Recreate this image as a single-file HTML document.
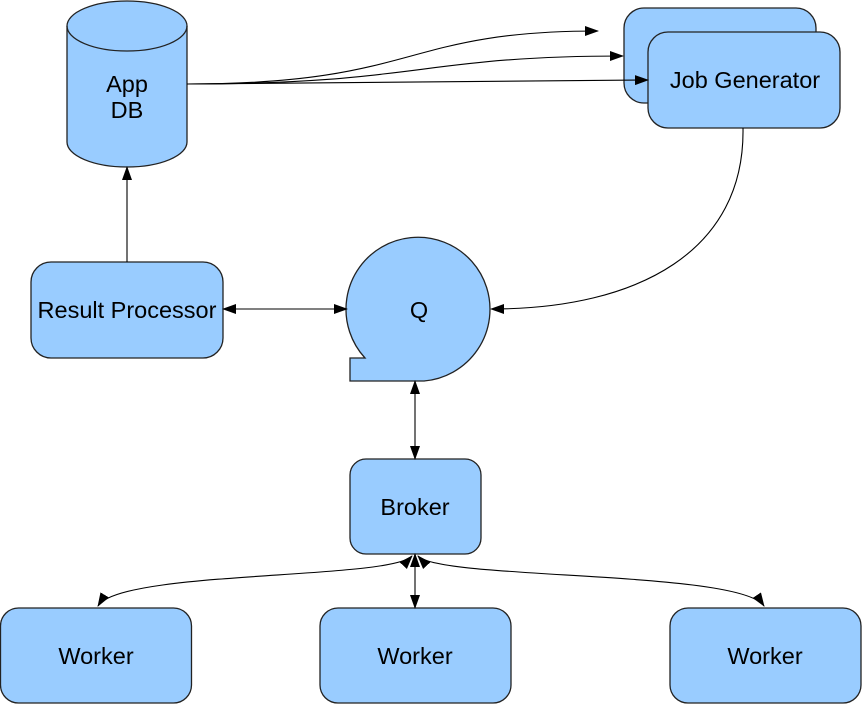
<!DOCTYPE html>
<html><head><style>body{margin:0;background:#fff}svg{display:block}</style></head>
<body>
<svg width="863" height="705" viewBox="0 0 863 705" xmlns="http://www.w3.org/2000/svg" font-family="Liberation Sans, sans-serif">
<defs>
<marker id="a" markerWidth="14" markerHeight="10" refX="13" refY="5" orient="auto" markerUnits="userSpaceOnUse"><path d="M0,0 L14,5 L0,10 z" fill="#000"/></marker>
<marker id="s" markerWidth="14" markerHeight="10" refX="1" refY="5" orient="auto" markerUnits="userSpaceOnUse"><path d="M14,0 L0,5 L14,10 z" fill="#000"/></marker>
</defs>
<g fill="#99ccff" stroke="#222" stroke-width="1.3">
<path d="M67,26 L67,142 A60,25 0 0 0 187,142 L187,26 A60,25 0 0 0 67,26 z"/>
<path d="M67,26 A60,25 0 0 0 187,26" fill="none"/>
<rect x="624" y="8" width="192" height="95" rx="20"/>
<rect x="648" y="32" width="192" height="96" rx="20"/>
<rect x="31" y="262" width="192" height="96" rx="20"/>
<path d="M365,358 A72,72 0 1 1 424,381 L350,381 L350,358 z"/>
<rect x="350" y="459" width="131" height="95" rx="16"/>
<rect x="0.5" y="608" width="191" height="95" rx="18"/>
<rect x="320" y="608" width="191" height="95" rx="18"/>
<rect x="670" y="608" width="191" height="95" rx="18"/>
</g>
<g fill="none" stroke="#000" stroke-width="1.1">
<path d="M187,84 C420,84 400,31 598,31" marker-end="url(#a)"/>
<path d="M187,84 C420,84 420,56 623,56" marker-end="url(#a)"/>
<path d="M187,84 L648,80" marker-end="url(#a)"/>
<path d="M743,128 C745,250 640,309 491,309" marker-end="url(#a)"/>
<path d="M223,309 L347,309" marker-start="url(#s)" marker-end="url(#a)"/>
<path d="M127,262 L127,167" marker-end="url(#a)"/>
<path d="M415,381 L415,459" marker-start="url(#s)" marker-end="url(#a)"/>
<path d="M415,554 L415,608" marker-start="url(#s)" marker-end="url(#a)"/>
<path d="M412,556 C390,580 120,570 98,606" marker-start="url(#s)" marker-end="url(#a)"/>
<path d="M418,556 C440,580 740,570 764,606" marker-start="url(#s)" marker-end="url(#a)"/>
</g>
<g font-size="23.5" text-anchor="middle" fill="#000">
<text x="127" y="92">App</text>
<text x="127" y="118">DB</text>
<text x="745" y="88">Job Generator</text>
<text x="127" y="318">Result Processor</text>
<text x="419" y="318">Q</text>
<text x="415" y="515">Broker</text>
<text x="96" y="664">Worker</text>
<text x="415" y="664">Worker</text>
<text x="765" y="664">Worker</text>
</g>
</svg>
</body></html>
